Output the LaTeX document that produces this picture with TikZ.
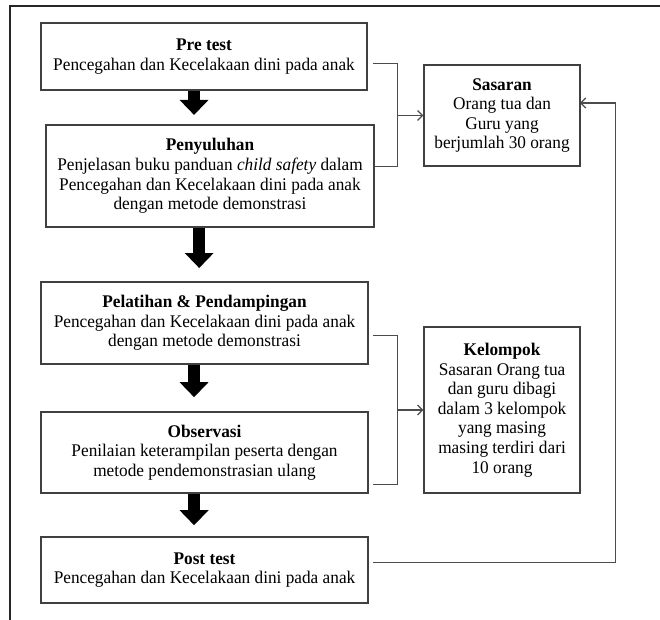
\documentclass[tikz,border=0pt]{standalone}
\usepackage{fontspec}
\setmainfont[FakeStretch=0.97]{Liberation Serif}
\usetikzlibrary{arrows.meta}
\pgfdeclarelayer{edgelayer}
\pgfdeclarelayer{nodelayer}
\pgfsetlayers{edgelayer,nodelayer,main}
\tikzset{font=\fontsize{8.9}{9.8}\selectfont}
\tikzstyle{none}=[inner sep=0pt]
\tikzstyle{box}=[rectangle,draw=black!75,line width=0.6pt,fill=white,align=center,inner sep=2pt]
\tikzstyle{fat}=[line width=6pt,-{Triangle[width=14pt,length=7.5pt]}]
\tikzstyle{link}=[draw=black!70,line width=0.65pt]
\tikzstyle{linkarrow}=[link,-{Straight Barb[length=2.5pt,width=5pt]}]

\begin{document}
\begin{tikzpicture}
	\useasboundingbox (0,0) rectangle (11.598,-10.895);
	\begin{pgfonlayer}{nodelayer}
		\node [style=box, minimum width=5.73cm, minimum height=1.177cm] (0) at (3.585, -0.993) {\textbf{Pre test}\\Pencegahan dan Kecelakaan dini pada anak};
		\node [style=box, minimum width=5.764cm, minimum height=1.792cm] (1) at (3.690, -3.093) {\textbf{Penyuluhan}\\Penjelasan buku panduan \textit{child safety} dalam\\Pencegahan dan Kecelakaan dini pada anak\\dengan metode demonstrasi};
		\node [style=box, minimum width=5.746cm, minimum height=1.441cm] (2) at (3.594, -5.676) {\textbf{Pelatihan \& Pendampingan}\\Pencegahan dan Kecelakaan dini pada anak\\dengan metode demonstrasi};
		\node [style=box, minimum width=5.746cm, minimum height=1.423cm] (3) at (3.594, -7.952) {\textbf{Observasi}\\Penilaian keterampilan peserta dengan\\metode pendemonstrasian ulang};
		\node [style=box, minimum width=5.746cm, minimum height=1.160cm] (4) at (3.594, -10.017) {\textbf{Post test}\\Pencegahan dan Kecelakaan dini pada anak};
		\node [style=box, minimum width=2.741cm, minimum height=1.775cm] (5) at (8.822, -2.030) {\textbf{Sasaran}\\Orang tua dan\\Guru yang\\berjumlah 30 orang};
		\node [style=box, minimum width=2.741cm, minimum height=2.917cm] (6) at (8.822, -7.205) {\textbf{Kelompok}\\Sasaran Orang tua\\dan guru dibagi\\dalam 3 kelompok\\yang masing\\masing terdiri dari\\10 orang};
		\node [style=none] (7) at (3.41, -1.58) {};
		\node [style=none] (8) at (3.41, -2.02) {};
		\node [style=none] (9) at (3.50, -3.99) {};
		\node [style=none] (10) at (3.50, -4.71) {};
		\node [style=none] (11) at (3.41, -6.40) {};
		\node [style=none] (12) at (3.41, -6.98) {};
		\node [style=none] (13) at (3.41, -8.66) {};
		\node [style=none] (14) at (3.41, -9.23) {};
		\node [style=none] (15) at (6.56, -1.11) {};
		\node [style=none] (16) at (6.99, -1.11) {};
		\node [style=none] (17) at (6.99, -2.92) {};
		\node [style=none] (18) at (6.57, -2.92) {};
		\node [style=none] (19) at (6.99, -2.03) {};
		\node [style=none] (20) at (6.56, -5.89) {};
		\node [style=none] (21) at (6.99, -5.89) {};
		\node [style=none] (22) at (6.99, -8.51) {};
		\node [style=none] (23) at (6.56, -8.51) {};
		\node [style=none] (24) at (6.99, -7.205) {};
		\node [style=none] (25) at (6.56, -9.89) {};
		\node [style=none] (26) at (10.81, -9.89) {};
		\node [style=none] (27) at (10.81, -1.81) {};
		\node [style=none] (28) at (10.19, -1.81) {};
		\node [style=none] (29) at (0.176, -10.895) {};
		\node [style=none] (30) at (0.176, -0.105) {};
		\node [style=none] (31) at (11.598, -0.105) {};
	\end{pgfonlayer}
	\begin{pgfonlayer}{edgelayer}
		\draw[line width=1pt, black!85] (29.center) to (30.center) to (31.center);
		\draw[style=fat] (7.center) to (8.center);
		\draw[style=fat] (9.center) to (10.center);
		\draw[style=fat] (11.center) to (12.center);
		\draw[style=fat] (13.center) to (14.center);
		\draw[style=link] (15.center) to (16.center) to (17.center) to (18.center);
		\draw[style=linkarrow] (19.center) to (5);
		\draw[style=link] (20.center) to (21.center) to (22.center) to (23.center);
		\draw[style=linkarrow] (24.center) to (6);
		\draw[style=linkarrow] (25.center) to (26.center) to (27.center) to (28.center);
	\end{pgfonlayer}
\end{tikzpicture}
\end{document}
